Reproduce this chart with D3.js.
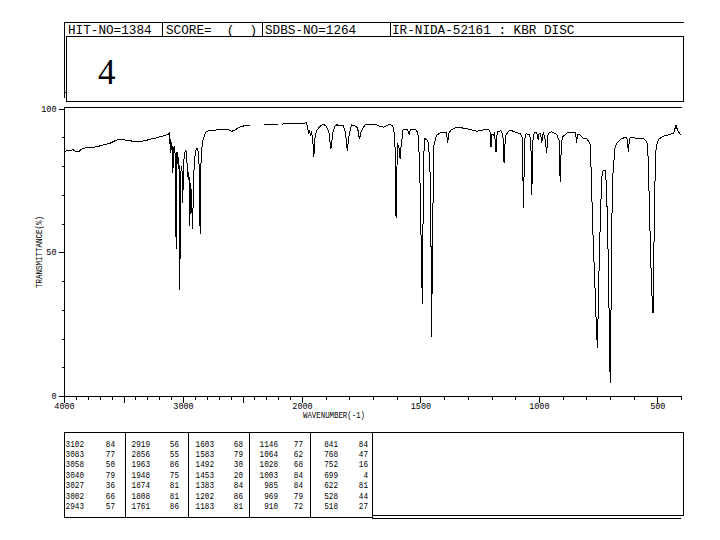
<!DOCTYPE html>
<html><head><meta charset="utf-8">
<script src="https://cdn.jsdelivr.net/npm/d3@7/dist/d3.min.js"></script>
<style>body{margin:0;background:#fff}svg{display:block}</style>
</head><body><svg id="c" width="720" height="540"></svg>
<script>
// ---------- data ----------
const wavenumbers = [
  4000,3977,3950,3922,3895,3880,3860,3837,3780,3725,
  3669,3613,3570,3543,3500,3444,3400,3360,3320,3276,
  3230,3192,3150,3122,3114,3110,3106,3102,3097,3090,
  3085,3080,3072,3064,3058,3052,3046,3040,3034,3027,
  3020,3014,3008,3002,2996,2988,2980,2972,2965,2956,
  2950,2943,2936,2930,2919,2912,2904,2896,2888,2876,
  2866,2856,2850,2842,2832,2824,2810,2780,2743,2700,
  2658,2620,2590,2574,2545,2518,2480,2434,2400,2322,
  2260,2200,2180,2165,2120,2069,2020,1995,1981,1976,
  1972,1968,1964,1960,1955,1950,1945,1938,1920,1910,
  1896,1886,1878,1870,1862,1854,1826,1816,1809,1800,
  1790,1769,1762,1758,1750,1734,1710,1685,1670,1657,
  1636,1629,1617,1612,1606,1603,1599,1595,1591,1586,
  1583,1579,1575,1558,1551,1547,1543,1537,1516,1508,
  1502,1492,1488,1484,1474,1466,1460,1456,1453,1448,
  1444,1438,1431,1410,1390,1385,1380,1368,1347,1320,
  1291,1262,1227,1210,1206,1202,1198,1192,1187,1181,
  1176,1171,1160,1152,1147,1142,1138,1122,1100,1079,
  1070,1065,1060,1054,1040,1034,1030,1025,1020,1009,
  1003,999,992,988,984,981,975,967,963,960,
  946,925,915,910,905,899,880,868,850,845,
  841,837,826,812,798,790,783,778,774,771,
  768,764,760,755,752,749,744,740,734,728,
  722,718,713,709,704,699,694,690,685,678,
  671,664,650,629,626,622,619,615,586,558,
  544,540,534,528,525,520,518,515,512,505,
  495,474,453,432,427,421,415,406,400
];
const transmittance = [
  85.0,85.3,85.5,85.6,85.0,84.9,85.6,86.2,86.4,86.7,
  87.3,87.9,88.8,89.3,89.1,88.8,88.4,88.5,88.8,89.3,
  89.7,90.2,90.6,91.1,91.4,87.5,89.5,84.5,88.5,86,
  77.5,86,87,83,51,85,84,79,83,37,
  76,80,78,67,80,84,85.4,85,80,75,
  78,59,74,70,58,74,82,84.5,86,86,
  82,56.5,80,86,89,90,91.8,92.4,92.3,92.8,
  92.8,92.6,92.1,92.3,93,93.7,94,94.3,null,94.3,
  94.4,94.6,null,94.6,94.7,94.7,94.8,94.8,95.1,93.5,
  91,92.5,90.5,92,89.5,83.2,90,92.5,94,94.6,
  93.7,91.5,85.8,91.5,93.8,94.3,94,91.5,85.3,91.5,
  94.3,93.7,92,89.3,92,94.3,94.3,94.3,93.8,93.5,
  94.3,94.5,94,92.5,85,62,80,87.3,86.7,82.6,
  86,88,92.5,92.8,92,90.8,92.5,92.8,92.5,90,
  75,32,70,89.5,89.3,88,80,60,20.6,60,
  86.7,89,90.8,91.8,91.8,88.1,91.5,92.7,93.4,93.2,
  92.7,92.1,92.7,92.5,91.9,86.5,91,90.8,91.5,85,
  91.9,91.9,92.3,91,80.9,89,91,92.5,91.8,91.3,
  90,65.3,89,91.3,90.8,89,69.9,89,91.5,91.7,
  89,91.5,91,87.9,90.5,91.5,90,84.6,90,91.4,
  91.9,91.0,89,74.5,88,90.2,91.5,91.7,91.7,91.5,
  88,91,90.8,89.5,89.6,88.5,87.5,75,62,55,
  48,40,30,20,16.6,35,49.6,63.5,76.3,78.6,
  78.6,78,68.2,55.4,31,4.6,40,74,79.8,86.7,
  88,88.5,89.6,90,88,85,88,90,89.6,89.6,
  88.5,85.6,68.2,48,40,30,28.8,45,69.3,86.7,
  89.3,90.4,90.8,91.4,92.5,94.3,92.5,91.4,90.8
];
const peakWavenumbers = [
  3102,3083,3058,3040,3027,3002,2943,
  2919,2856,1963,1948,1874,1808,1761,
  1603,1583,1492,1453,1383,1202,1183,
  1146,1064,1028,1003,985,969,910,
  841,768,752,699,622,528,518
];
const peakTransmittance = [
  84,77,50,79,36,66,57,
  56,55,86,75,81,81,86,
  68,79,30,20,84,86,81,
  77,62,68,84,84,79,72,
  84,47,16,4,81,44,27
];
const xTickLabels = [4000,3000,2000,1500,1000,500];
const yTickLabels = [0,50,100];
const headerFields = ["HIT-NO=1384","SCORE=  (  )","SDBS-NO=1264","IR-NIDA-52161 : KBR DISC"];
const compoundLabel = "4";
const xTitle = "WAVENUMBER(-1)";
const yTitle = "TRANSMITTANCE(%)";

// ---------- drawing ----------
const svg = d3.select("#c");
svg.append("rect").attr("width",720).attr("height",540).attr("fill","#fff");
const mono = "'Liberation Mono','DejaVu Sans Mono', monospace";
const g = svg.append("g").attr("shape-rendering","crispEdges");

function hline(x1,x2,y){ g.append("line").attr("x1",x1).attr("x2",x2).attr("y1",y).attr("y2",y).attr("stroke","#000").attr("stroke-width",1); }
function vline(x,y1,y2){ g.append("line").attr("x1",x).attr("x2",x).attr("y1",y1).attr("y2",y2).attr("stroke","#000").attr("stroke-width",1); }

// header row
hline(64,684,22.5);
vline(64.5,22,36);
[162.5,262.5,390.5].forEach(x=>vline(x,22,36));
const headerX = [68,166,265,392];
headerFields.forEach((t,i)=>{
  svg.append("text").attr("x",headerX[i]).attr("y",33.5).attr("font-family",mono)
    .attr("font-size",12).attr("textLength",t.length*7.6).attr("lengthAdjust","spacingAndGlyphs")
    .attr("xml:space","preserve").text(t);
});
// compound box
g.append("rect").attr("x",66.5).attr("y",36.5).attr("width",617).attr("height",64.5)
  .attr("fill","none").attr("stroke","#000");
vline(64.5,36,98);
hline(64,66,92.5);
svg.append("text").attr("x",98).attr("y",84).attr("font-family","'Liberation Serif','DejaVu Serif',serif")
  .attr("font-size",35).text(compoundLabel);

// scales
const x = d3.scaleLinear().domain([4000,2000,400]).range([64,302,681]);
const y = d3.scaleLinear().domain([0,100]).range([396,108.5]);

// frame
hline(64,682,107.5);

// y axis
const yAxis = d3.axisLeft(y).tickValues(d3.range(0,101,10)).tickSize(3).tickSizeOuter(0)
  .tickPadding(5).tickFormat(d=>yTickLabels.includes(d)?d:"");
const ya = svg.append("g").attr("transform","translate(64.5,0)").attr("shape-rendering","crispEdges").call(yAxis);
ya.select(".domain").attr("d","M0,107V396.5");
ya.selectAll(".tick line").attr("x2",d=>yTickLabels.includes(d)?-6:-3);
ya.selectAll(".tick text").attr("font-family",mono).attr("font-size",8.5).attr("x",-8);

// x axis
const xTicks = d3.range(4000,399,-100);
const xAxis = d3.axisBottom(x).tickValues(xTicks).tickSize(3).tickSizeOuter(0)
  .tickPadding(4).tickFormat(d=>xTickLabels.includes(d)?d:"");
const xa = svg.append("g").attr("transform","translate(0,396.5)").attr("shape-rendering","crispEdges").call(xAxis);
xa.select(".domain").attr("d","M64,0H682");
xa.selectAll(".tick line").attr("y2",d=>d%500===0?6:3);
xa.selectAll(".tick text").attr("font-family",mono).attr("font-size",8.5).attr("y",6);

// titles
svg.append("text").attr("x",334).attr("y",418).attr("text-anchor","middle").attr("font-family",mono)
  .attr("font-size",8.5).attr("textLength",62).attr("lengthAdjust","spacingAndGlyphs").text(xTitle);
svg.append("text").attr("transform","translate(42,252) rotate(-90)").attr("text-anchor","middle")
  .attr("font-family",mono).attr("font-size",8.5).attr("textLength",72).attr("lengthAdjust","spacingAndGlyphs").text(yTitle);

// spectrum
const pts = wavenumbers.map((w,i)=>({w, t:transmittance[i]}));
const line = d3.line().defined(d=>d.t!==null).x(d=>x(d.w)).y(d=>y(d.t));
svg.append("path").datum(pts).attr("d",line).attr("fill","none").attr("stroke","#000")
  .attr("stroke-width",1).attr("shape-rendering","crispEdges");

// peak table
g.append("rect").attr("x",64.5).attr("y",432.5).attr("width",308).attr("height",84.5).attr("fill","none").attr("stroke","#000");
[125.5,188.5,249.5,310.5].forEach(xx=>vline(xx,432,517));
g.append("rect").attr("x",372.5).attr("y",432.5).attr("width",311).attr("height",83).attr("fill","none").attr("stroke","#000");
hline(372,681,518.5);
const wnRight = [84,150,214,278,338];
const tRight = [115,179,243,303,368];
peakWavenumbers.forEach((w,i)=>{
  const col = Math.floor(i/7), row = i%7;
  const yy = 446.5 + row*10.45;
  const ws = String(w), ts = String(peakTransmittance[i]);
  svg.append("text").attr("x",wnRight[col]).attr("y",yy).attr("text-anchor","end").attr("font-family",mono)
    .attr("font-size",9).attr("textLength",ws.length*4.6).attr("lengthAdjust","spacingAndGlyphs").text(ws);
  svg.append("text").attr("x",tRight[col]).attr("y",yy).attr("text-anchor","end").attr("font-family",mono)
    .attr("font-size",9).attr("textLength",ts.length*4.6).attr("lengthAdjust","spacingAndGlyphs").text(ts);
});
</script></body></html>
